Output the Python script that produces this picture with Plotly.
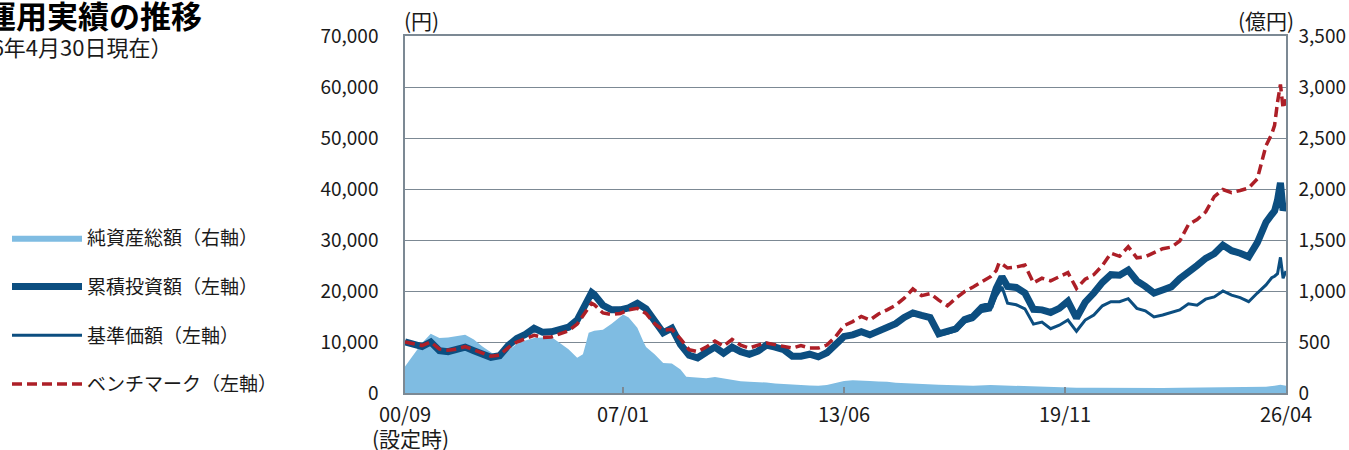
import plotly.graph_objects as go

# ---------------- data ----------------
line_dates = [
    "2000-09", "2000-12", "2001-03", "2001-06", "2001-09", "2001-12", "2002-03", "2002-06",
    "2002-09", "2002-12", "2003-03", "2003-06", "2003-09", "2003-12", "2004-03", "2004-06",
    "2004-09", "2004-12", "2005-03", "2005-06", "2005-09", "2005-12", "2006-02", "2006-03",
    "2006-06", "2006-09", "2006-12", "2007-03", "2007-06", "2007-09", "2007-12", "2008-03",
    "2008-06", "2008-09", "2008-12", "2009-03", "2009-06", "2009-09", "2009-12", "2010-03",
    "2010-06", "2010-09", "2010-12", "2011-03", "2011-06", "2011-09", "2011-12", "2012-03",
    "2012-06", "2012-09", "2012-12", "2013-03", "2013-06", "2013-09", "2013-12", "2014-03",
    "2014-06", "2014-09", "2014-12", "2015-03", "2015-06", "2015-09", "2015-12", "2016-03",
    "2016-06", "2016-09", "2016-12", "2017-03", "2017-06", "2017-09", "2017-11", "2017-12",
    "2018-01", "2018-03", "2018-06", "2018-09", "2018-12", "2019-03", "2019-06", "2019-09",
    "2019-12", "2020-03", "2020-06", "2020-09", "2020-12", "2021-03", "2021-06", "2021-09",
    "2021-12", "2022-03", "2022-06", "2022-09", "2022-12", "2023-03", "2023-06", "2023-09",
    "2023-12", "2024-03", "2024-06", "2024-09", "2024-12", "2025-03", "2025-06", "2025-09",
    "2025-11", "2025-12", "2026-01", "2026-02", "2026-03", "2026-04",
]

# 累積投資額 (円)
cumulative = [
    10000, 9500, 9100, 10000, 8300, 8100, 8400, 9000,
    8300, 7600, 7000, 7300, 9300, 10700, 11500, 12700,
    11900, 12000, 12400, 12900, 14300, 17600, 19700, 19300,
    17200, 16300, 16300, 16700, 17600, 16500, 14200, 11800,
    12700, 9500, 7400, 6900, 8000, 9000, 7800, 9000,
    8100, 7600, 8200, 9400, 9000, 8500, 7200, 7200,
    7600, 7100, 7900, 9600, 11100, 11400, 12000, 11400,
    12200, 13000, 13600, 14800, 15700, 15200, 14800, 11600,
    12100, 12600, 14400, 15000, 16800, 17200, 20500, 22000,
    22800, 20900, 20700, 19600, 16400, 16300, 15800, 16600,
    18000, 14700, 17800, 19600, 21700, 23200, 23100, 24100,
    22000, 20900, 19600, 20200, 20800, 22400, 23900, 25000,
    26400, 27300, 29000, 27900, 27400, 26700, 29500, 33500,
    35000, 35700, 37800, 41200, 35800, 37300,
]

# 基準価額 (円)
nav = [
    10000, 9500, 9100, 10000, 8300, 8100, 8400, 9000,
    8300, 7600, 7000, 7300, 9300, 10700, 11500, 12700,
    11900, 12000, 12400, 12900, 14300, 17600, 19700, 19300,
    17200, 16300, 16300, 16700, 17600, 16500, 14200, 11800,
    12700, 9500, 7400, 6900, 8000, 9000, 7800, 9000,
    8100, 7600, 8200, 9400, 9000, 8500, 7200, 7200,
    7600, 7100, 7900, 9600, 11100, 11400, 12000, 11400,
    12200, 13000, 13600, 14800, 15700, 15000, 14500, 11300,
    11700, 12200, 13900, 14400, 16000, 16300, 19000, 19800,
    20800, 17600, 17300, 16500, 13500, 13900, 12600, 13300,
    14300, 12100, 14300, 15300, 17100, 17900, 17900, 18500,
    16600, 16100, 14900, 15300, 15800, 16300, 17500, 17200,
    18400, 18850, 20000, 19200, 18700, 17900, 19600, 21200,
    22600, 22900, 23400, 26600, 22500, 23900,
]

# ベンチマーク (円)
benchmark = [
    10000, 9600, 9300, 10000, 8600, 8400, 8600, 9100,
    8500, 7800, 7200, 7400, 8900, 10000, 10600, 11300,
    10900, 11000, 11600, 12200, 13500, 16000, 17600, 17300,
    15700, 15400, 15600, 16300, 16600, 15600, 13600, 12300,
    12500, 10600, 8500, 8100, 9000, 10200, 9200, 10500,
    9400, 8800, 9400, 9800, 9500, 9200, 8800, 9300,
    8800, 8800, 9400, 11000, 13200, 14000, 15000, 14300,
    15500, 16300, 17200, 18600, 20400, 19100, 19500, 18200,
    17100, 18600, 19900, 20800, 21800, 22800, 24000, 25500,
    25300, 24500, 24700, 25100, 21600, 22500, 22000, 22800,
    23600, 20500, 22300, 23200, 25000, 27400, 26800, 28700,
    26500, 26700, 27500, 28300, 28600, 29800, 33000, 34000,
    35500, 38500, 39900, 39300, 39700, 40200, 42000, 48500,
    50800, 52500, 57000, 60500, 55800, 57600,
]

# 純資産総額 (億円)
asset_dates = [
    "2000-09", "2000-12", "2001-03", "2001-06", "2001-09", "2001-12", "2002-03", "2002-06",
    "2002-09", "2002-12", "2003-03", "2003-06", "2003-09", "2003-12", "2004-03", "2004-06",
    "2004-09", "2004-12", "2005-03", "2005-06", "2005-09", "2005-11", "2005-12", "2006-01",
    "2006-03", "2006-06", "2006-09", "2006-12", "2007-01", "2007-03", "2007-06", "2007-08",
    "2007-09", "2007-12", "2008-03", "2008-06", "2008-09", "2008-11", "2009-03", "2009-06",
    "2009-09", "2009-12", "2010-03", "2010-06", "2010-09", "2010-12", "2011-03", "2011-06",
    "2011-09", "2011-12", "2012-03", "2012-06", "2012-09", "2012-12", "2013-03", "2013-06",
    "2013-09", "2013-12", "2014-03", "2014-06", "2014-09", "2014-12", "2015-03", "2015-06",
    "2015-09", "2016-03", "2016-09", "2017-03", "2017-09", "2018-03", "2018-09", "2019-03",
    "2019-09", "2020-03", "2020-09", "2021-03", "2021-09", "2022-03", "2022-09", "2023-03",
    "2023-09", "2024-03", "2024-09", "2025-03", "2025-09", "2025-12", "2026-02", "2026-04",
]
net_assets = [
    260, 380, 490, 580, 540, 545, 560, 570,
    525, 455, 400, 340, 420, 480, 515, 540,
    545, 550, 490, 430, 345, 380, 480, 590,
    610, 620, 680, 750, 770, 740, 640, 510,
    450, 380, 295, 290, 230, 160, 148, 145,
    158, 144, 130, 115, 110, 107, 103, 92,
    85, 80, 78, 74, 72, 78, 98, 118,
    125, 125, 118, 112, 110, 100, 95, 90,
    87, 80, 75, 72, 78, 72, 65, 60,
    55, 52, 52, 50, 50, 52, 50, 52,
    53, 55, 57, 58, 62, 70, 80, 72,
]

x_tick_vals = ["2000-09", "2007-01", "2013-06", "2019-11", "2026-04"]
x_tick_text = ["00/09", "07/01", "13/06", "19/11", "26/04"]
yen_ticks = [0, 10000, 20000, 30000, 40000, 50000, 60000, 70000]
oku_ticks = [0, 500, 1000, 1500, 2000, 2500, 3000, 3500]

# ---------------- style / layout ----------------
W, H = 1349, 450
L, R, T, B = 405, 63, 36, 57
PW, PH = W - L - R, H - T - B

def px(xp):
    return (xp - L) / PW

def py(yp):
    return (H - B - yp) / PH

JP = "Noto Sans CJK JP, Liberation Sans, sans-serif"
NAVY = "#0c4e80"
RED = "#ad1f27"
SKY = "#7fbce2"
GRID = "#7c8994"
TXT = "#1a1a1a"
CLEAR = "rgba(0,0,0,0)"

fig = go.Figure()

fig.add_trace(go.Scatter(
    x=asset_dates, y=net_assets, name="純資産総額（右軸）",
    mode="lines", fill="tozeroy", fillcolor=SKY,
    line=dict(color=SKY, width=0), yaxis="y", legendrank=1, legendgroup="a",
))
fig.add_trace(go.Scatter(
    x=line_dates, y=nav, name="基準価額（左軸）",
    mode="lines", line=dict(color=NAVY, width=3), yaxis="y2", legendrank=3, legendgroup="c",
))
fig.add_trace(go.Scatter(
    x=line_dates, y=cumulative, name="累積投資額（左軸）",
    mode="lines", line=dict(color=NAVY, width=7), yaxis="y2", legendrank=2, legendgroup="b",
))
fig.add_trace(go.Scatter(
    x=line_dates, y=benchmark, name="ベンチマーク（左軸）",
    mode="lines", line=dict(color=RED, width=3.5, dash="10px,5px"), yaxis="y2",
    legendrank=4, legendgroup="d",
))

fig.update_layout(
    width=W, height=H,
    margin=dict(l=L, r=R, t=T, b=B, pad=0, autoexpand=False),
    paper_bgcolor="white", plot_bgcolor="white",
    font=dict(family=JP, size=18, color=TXT),
    showlegend=True,
    legend=dict(
        x=px(7), y=py(219), xanchor="left", yanchor="top",
        font=dict(size=19, family=JP, color=TXT),
        itemwidth=70, tracegroupgap=21, bgcolor=CLEAR,
        traceorder="grouped",
    ),
    xaxis=dict(
        type="date", range=["2000-09-01", "2026-04-01"],
        tickvals=x_tick_vals, ticktext=x_tick_text,
        ticks="inside", ticklen=6, tickcolor=GRID, tickwidth=1.5,
        showline=True, linecolor=GRID, linewidth=1.5, mirror=True,
        showgrid=False, zeroline=False,
        tickfont=dict(size=20, family=JP, color=TXT),
        ticklabelstandoff=3,
    ),
    yaxis=dict(
        side="right", range=[0, 3500], tickvals=oku_ticks, tickformat=",",
        showgrid=True, gridcolor=GRID, gridwidth=1.2,
        showline=True, linecolor=GRID, linewidth=1.5,
        zeroline=False, ticks="outside", ticklen=7, tickcolor=CLEAR,
        tickfont=dict(size=19, family=JP, color=TXT),
    ),
    yaxis2=dict(
        side="left", overlaying="y", range=[0, 70000], tickvals=yen_ticks, tickformat=",",
        showgrid=False, showline=True, linecolor=GRID, linewidth=1.5,
        zeroline=False, ticks="outside", ticklen=21, tickcolor=CLEAR,
        tickfont=dict(size=19, family=JP, color=TXT),
    ),
    annotations=[
        dict(text="<b>運用実績の推移</b>", xref="paper", yref="paper",
             x=px(204), y=py(15), xanchor="right", yanchor="middle",
             showarrow=False, font=dict(size=31, family=JP, color="#000000")),
        dict(text="（2026年4月30日現在）", xref="paper", yref="paper",
             x=px(174), y=py(46), xanchor="right", yanchor="middle",
             showarrow=False, font=dict(size=22, family=JP, color=TXT)),
        dict(text="(円)", xref="paper", yref="paper",
             x=px(421), y=py(20), xanchor="center", yanchor="middle",
             showarrow=False, font=dict(size=21, family=JP, color=TXT)),
        dict(text="(億円)", xref="paper", yref="paper",
             x=px(1266), y=py(20), xanchor="center", yanchor="middle",
             showarrow=False, font=dict(size=21, family=JP, color=TXT)),
        dict(text="(設定時)", xref="paper", yref="paper",
             x=px(410), y=py(438), xanchor="center", yanchor="middle",
             showarrow=False, font=dict(size=21, family=JP, color=TXT)),
    ],
)

fig.write_html(
    "out.html",
    config={"displayModeBar": False},
    post_script="document.body.style.margin='0px';",
)
